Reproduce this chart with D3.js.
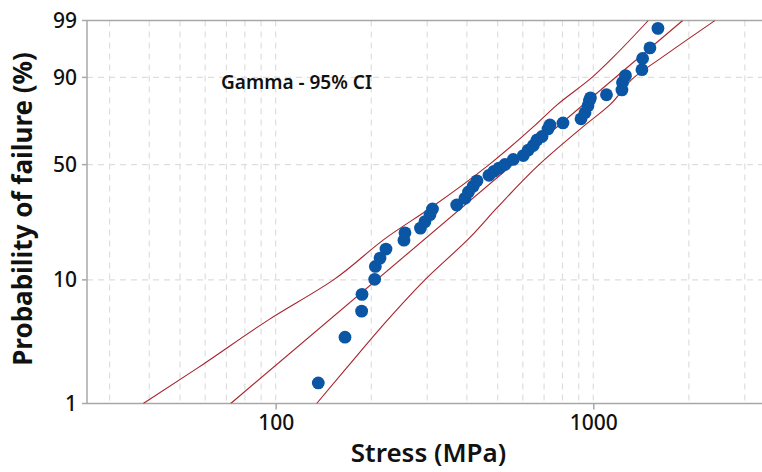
<!DOCTYPE html>
<html>
<head>
<meta charset="utf-8">
<script src="https://cdn.jsdelivr.net/npm/d3@7"></script>
<style>
  body { margin: 0; background: #fff; }
  svg { display: block; }
  text { font-family: "Noto Sans", "Open Sans", sans-serif; fill: #111; }
</style>
</head>
<body>
<svg id="chart" width="762" height="472"></svg>
<script>
// ---- data ----
const stressTicks = [100, 1000];
const stressGrid = [30, 40, 50, 60, 70, 80, 90, 100, 200, 300, 400, 500, 600, 700, 800, 900, 1000, 2000, 3000];
const percentTicks = [1, 10, 50, 90, 99];
const percentGrid = [10, 50, 90];

// observed failures: stress (MPa) and plotted probability of failure (%)
const failureStress = [136.2, 165.3, 186.5, 187.0, 205.0, 206.0, 213.1, 222.5, 253.5, 255.4,
  285.7, 295.2, 306.1, 311.7, 371.5, 394.5, 404.7, 419.0, 430.4, 469.5,
  486.8, 504.8, 527.2, 559.8, 602.1, 624.3, 647.4, 665.0, 689.6, 720.2,
  730.7, 802.8, 914.9, 941.8, 962.4, 972.8, 979.9, 1100.6, 1231, 1236,
  1263, 1423, 1430, 1508, 1598];
const failurePercent = [1.5, 3.6, 5.8, 7.8, 10.1, 12.5, 14.3, 16.5, 18.9, 21.1,
  22.6, 24.8, 27.3, 29.5, 31.1, 33.9, 36.7, 39.4, 41.9, 44.6,
  46.6, 48.2, 50.1, 52.7, 54.7, 57.6, 60.0, 62.9, 64.7, 68.6,
  70.6, 71.6, 73.6, 76.5, 79.6, 81.9, 82.9, 84.1, 85.9, 88.4,
  90.5, 92.1, 94.6, 96.4, 98.5];

// fitted gamma percentile line
const fitStress = [72.2, 1912];
const fitPercent = [1, 99];

// 95% confidence bounds on the percentiles
const bandPercent = [1, 2, 5, 10, 20, 30, 50, 70, 80, 90, 95, 99];
const bandLowStress = [38.3, 56.7, 95.5, 152, 226, 308, 470, 651, 769, 991, 1162, 1490];
const bandHighStress = [134.6, 167, 226, 295, 412, 498, 675, 933, 1127, 1344, 1662, 2416];

// ---- gamma probability paper ----
const PAPER_SHAPE = 2.5;
function lnGamma(z) {
  const c = [0.99999999999980993, 676.5203681218851, -1259.1392167224028, 771.32342877765313,
    -176.61502916214059, 12.507343278686905, -0.13857109526572012, 9.9843695780195716e-6, 1.5056327351493116e-7];
  if (z < 0.5) return Math.log(Math.PI / Math.sin(Math.PI * z)) - lnGamma(1 - z);
  z -= 1;
  let s = c[0];
  for (let i = 1; i < 9; i++) s += c[i] / (z + i);
  const t = z + 7.5;
  return 0.5 * Math.log(2 * Math.PI) + (z + 0.5) * Math.log(t) - t + Math.log(s);
}
function gammaP(a, v) {
  if (v <= 0) return 0;
  let term = 1 / a, sum = term;
  for (let n = 1; n < 400; n++) {
    term *= v / (a + n);
    sum += term;
    if (term < sum * 1e-14) break;
  }
  return sum * Math.exp(-v + a * Math.log(v) - lnGamma(a));
}
function gammaQuantile(p, a) {
  let lo = 0, hi = 200;
  for (let i = 0; i < 80; i++) {
    const mid = (lo + hi) / 2;
    if (gammaP(a, mid) < p) lo = mid; else hi = mid;
  }
  return (lo + hi) / 2;
}
const paper = pct => Math.log(gammaQuantile(pct / 100, PAPER_SHAPE));

// ---- layout ----
const plotLeft = 87, plotRight = 762, plotTop = 20.5, plotBottom = 403.5;

const svg = d3.select("#chart");

const x = d3.scaleLog().domain([25.47, 3398]).range([plotLeft, plotRight]);
const yLin = d3.scaleLinear().domain([paper(1), paper(99)]).range([plotBottom, plotTop]);
const y = pct => yLin(paper(pct));

svg.append("defs").append("clipPath").attr("id", "plotClip")
  .append("rect").attr("x", plotLeft).attr("y", plotTop)
  .attr("width", plotRight - plotLeft).attr("height", plotBottom - plotTop);

// grid
const grid = svg.append("g").attr("stroke", "#dedede").attr("stroke-width", 1.2).attr("stroke-dasharray", "6,5");
grid.selectAll("line.v").data(stressGrid).join("line").attr("class", "v")
  .attr("x1", d => x(d)).attr("x2", d => x(d)).attr("y1", plotTop).attr("y2", plotBottom);
grid.selectAll("line.h").data(percentGrid).join("line").attr("class", "h")
  .attr("x1", plotLeft).attr("x2", plotRight).attr("y1", d => y(d)).attr("y2", d => y(d));

// frame
const frame = svg.append("g").attr("stroke", "#a8a8a8").attr("stroke-width", 1.5);
frame.append("line").attr("x1", plotLeft).attr("x2", plotRight).attr("y1", plotTop).attr("y2", plotTop);
frame.append("line").attr("x1", plotLeft).attr("x2", plotLeft).attr("y1", plotTop).attr("y2", plotBottom);
frame.append("line").attr("x1", plotLeft).attr("x2", plotRight).attr("y1", plotBottom).attr("y2", plotBottom);

// axes
const xAxis = d3.axisBottom(x).tickValues(stressTicks).tickFormat(d3.format("d")).tickSize(6).tickPadding(6);
const gx = svg.append("g").attr("transform", `translate(0,${plotBottom})`).call(xAxis);
gx.select(".domain").remove();
gx.selectAll(".tick line").attr("stroke", "#a8a8a8").attr("stroke-width", 1.5);
gx.selectAll(".tick text").attr("font-size", 21).attr("font-weight", 500).attr("fill", "#111")
  .attr("font-family", "'Noto Sans', sans-serif");

const gy = svg.append("g");
gy.selectAll("g.tick").data(percentTicks).join("g").attr("class", "tick")
  .attr("transform", d => `translate(${plotLeft},${y(d)})`)
  .each(function (d) {
    const g = d3.select(this);
    g.append("line").attr("x1", -5).attr("x2", 0).attr("stroke", "#a8a8a8").attr("stroke-width", 1.5);
    g.append("text").attr("x", -10).attr("dy", "0.35em").attr("text-anchor", "end")
      .attr("font-size", 21).attr("font-weight", 500).text(d);
  });

// bands and fit
const plot = svg.append("g").attr("clip-path", "url(#plotClip)");
const bandLine = d3.line().x(d => x(d[0])).y(d => y(d[1])).curve(d3.curveMonotoneY);
const red = "#a8232b";
plot.append("path").datum(bandPercent.map((p, i) => [bandLowStress[i], p]))
  .attr("d", bandLine).attr("fill", "none").attr("stroke", red).attr("stroke-width", 1.1);
plot.append("path").datum(bandPercent.map((p, i) => [bandHighStress[i], p]))
  .attr("d", bandLine).attr("fill", "none").attr("stroke", red).attr("stroke-width", 1.1);
plot.append("path").datum(fitPercent.map((p, i) => [fitStress[i], p]))
  .attr("d", d3.line().x(d => x(d[0])).y(d => y(d[1])))
  .attr("fill", "none").attr("stroke", red).attr("stroke-width", 1.1);

// observations
plot.selectAll("circle").data(failureStress.map((s, i) => [s, failurePercent[i]])).join("circle")
  .attr("cx", d => x(d[0])).attr("cy", d => y(d[1])).attr("r", 6.4).attr("fill", "#0a55a4");

// labels
svg.append("text").attr("x", 221).attr("y", 89).attr("font-size", 19).attr("font-weight", 600)
  .text("Gamma - 95% CI");
svg.append("text").attr("x", 428.5).attr("y", 461.5).attr("text-anchor", "middle")
  .attr("font-size", 26).attr("font-weight", 600).text("Stress (MPa)");
svg.append("text").attr("transform", "translate(32,209) rotate(-90)").attr("text-anchor", "middle")
  .attr("font-size", 26).attr("font-weight", 700).text("Probability of failure (%)");
</script>
</body>
</html>
